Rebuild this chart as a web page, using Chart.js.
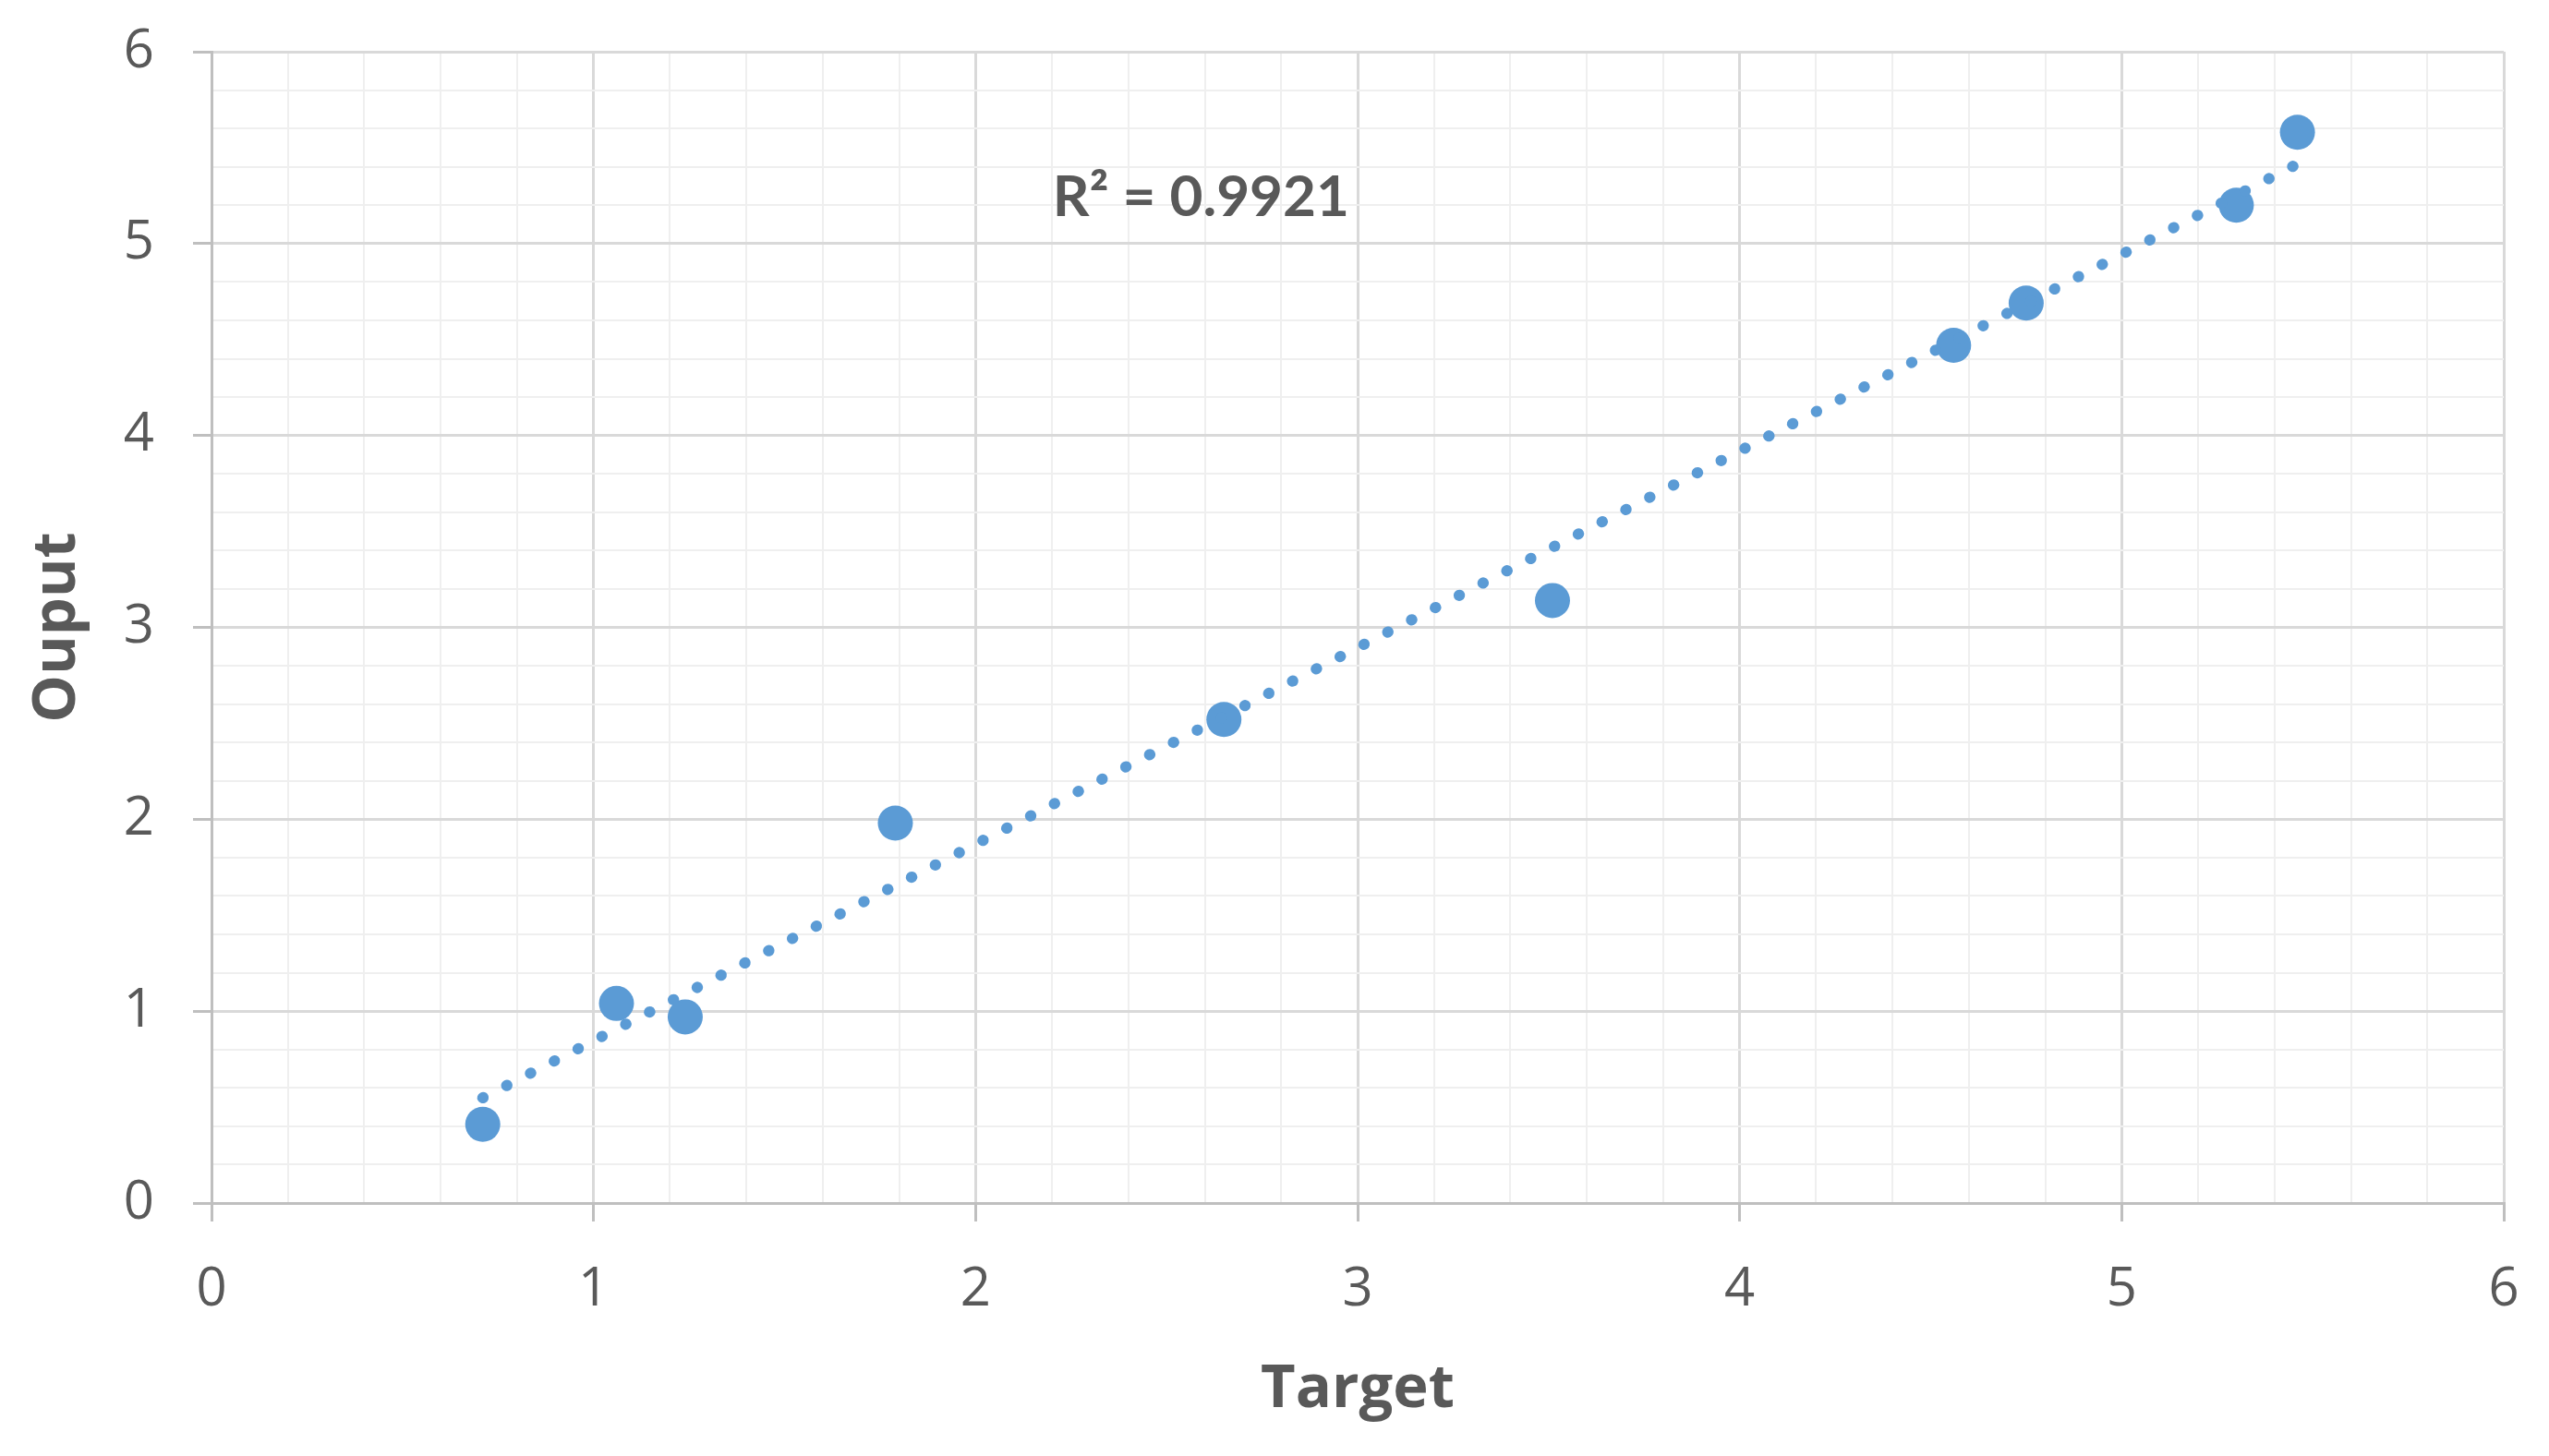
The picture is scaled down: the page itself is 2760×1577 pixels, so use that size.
<!DOCTYPE html>
<html>
<head>
<meta charset="utf-8">
<script src="https://cdn.jsdelivr.net/npm/chart.js@4.4.1/dist/chart.umd.min.js"></script>
<style>
  html, body { margin: 0; padding: 0; background: #fff; }
  #wrap { width: 2760px; height: 1577px; }
</style>
</head>
<body>
<div id="wrap"><canvas id="scatterChart" width="2760" height="1577"></canvas></div>
<script>
// values
const targetValues = [0.71, 1.06, 1.24, 1.79, 2.65, 3.51, 4.56, 4.75, 5.30, 5.46];
const outputValues = [0.41, 1.04, 0.97, 1.98, 2.52, 3.14, 4.47, 4.69, 5.20, 5.58];
const axisTicks = [0, 1, 2, 3, 4, 5, 6];
const r2Label = "R² = 0.9921";

const blue = "#5B9BD5";
const textGrey = "#595959";

// linear trendline (least squares) through the points
const n = targetValues.length;
const mx = targetValues.reduce((a, b) => a + b, 0) / n;
const my = outputValues.reduce((a, b) => a + b, 0) / n;
let sxy = 0, sxx = 0;
targetValues.forEach((x, i) => {
  sxy += (x - mx) * (outputValues[i] - my);
  sxx += (x - mx) * (x - mx);
});
const slope = sxy / sxx;
const intercept = my - slope * mx;
const xMin = Math.min(...targetValues);
const xMax = Math.max(...targetValues);
const trendPoints = [
  { x: xMin, y: intercept + slope * xMin },
  { x: xMax, y: intercept + slope * xMax },
];

const points = targetValues.map((x, i) => ({ x: x, y: outputValues[i] }));

function isMajor(v) {
  return Math.abs(v - Math.round(v)) < 1e-6 && axisTicks.includes(Math.round(v));
}

// R² text, placed in data units
const r2Plugin = {
  id: "r2Label",
  afterDatasetsDraw(chart) {
    const { ctx, scales } = chart;
    ctx.save();
    ctx.font = "bold 62px Lato";
    ctx.fillStyle = textGrey;
    ctx.textAlign = "center";
    ctx.textBaseline = "middle";
    ctx.fillText(r2Label, scales.x.getPixelForValue(2.59), scales.y.getPixelForValue(5.24));
    ctx.restore();
  },
};

const gridOpts = {
  color: (c) => (isMajor(c.tick.value) ? "#d9d9d9" : "#efefef"),
  lineWidth: (c) => (isMajor(c.tick.value) ? 3 : 2),
  tickColor: (c) => (isMajor(c.tick.value) ? "#bfbfbf" : "rgba(0,0,0,0)"),
  tickLength: 20,
  tickWidth: 3,
};

new Chart(document.getElementById("scatterChart"), {
  type: "scatter",
  data: {
    datasets: [
      {
        label: "Trend",
        data: trendPoints,
        showLine: true,
        borderColor: blue,
        borderWidth: 12,
        borderDash: [0.5, 28.5],
        borderCapStyle: "round",
        pointRadius: 0,
        order: 0,
      },
      {
        label: "Ouput",
        data: points,
        backgroundColor: blue,
        borderWidth: 0,
        pointRadius: 19,
        order: 1,
      },
    ],
  },
  options: {
    responsive: false,
    animation: false,
    layout: { padding: { left: 0, right: 49, top: 56, bottom: 0 } },
    plugins: {
      legend: { display: false },
      tooltip: { enabled: false },
    },
    scales: {
      x: {
        type: "linear",
        min: 0,
        max: 6,
        grid: gridOpts,
        border: { color: "#bfbfbf", width: 3 },
        ticks: {
          stepSize: 0.2,
          autoSkip: false,
          maxRotation: 0,
          padding: 40,
          color: textGrey,
          font: { family: "Open Sans", size: 58 },
          callback: (v) => (isMajor(v) ? String(Math.round(v)) : ""),
        },
        title: {
          display: true,
          text: "Target",
          color: textGrey,
          font: { family: "Open Sans", size: 65, weight: "bold" },
          padding: { top: 0, bottom: 33 },
        },
        afterFit: (scale) => {
          scale.height = 274;
          scale.paddingRight = 0;
        },
      },
      y: {
        type: "linear",
        min: 0,
        max: 6,
        grid: gridOpts,
        border: { color: "#bfbfbf", width: 3 },
        ticks: {
          stepSize: 0.2,
          autoSkip: false,
          padding: 42,
          color: textGrey,
          font: { family: "Open Sans", size: 58 },
          callback: (v) => (isMajor(v) ? String(Math.round(v)) : ""),
        },
        title: {
          display: true,
          text: "Ouput",
          color: textGrey,
          font: { family: "Open Sans", size: 65, weight: "bold" },
          padding: { top: 23, bottom: 0 },
        },
        afterFit: (scale) => {
          scale.width = 229;
          scale.paddingTop = 0;
        },
      },
    },
  },
  plugins: [r2Plugin],
});
</script>
</body>
</html>
